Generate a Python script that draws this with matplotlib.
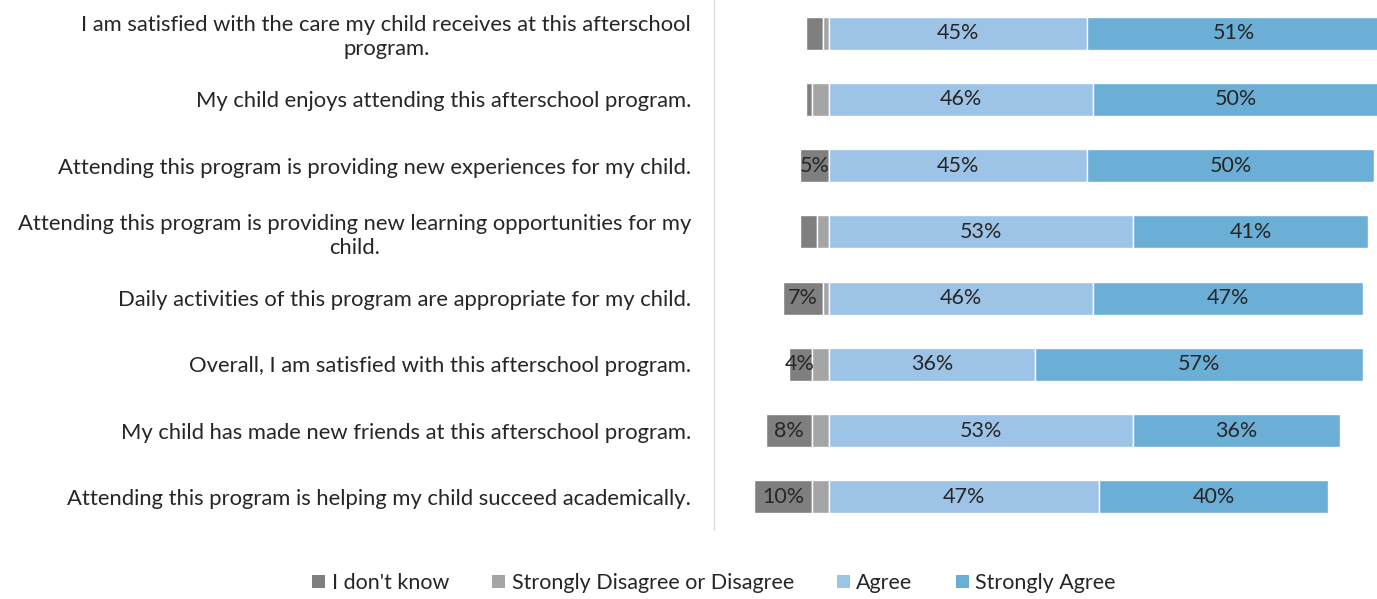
import matplotlib.pyplot as plt
from matplotlib.patches import Patch

plt.rcParams['font.family'] = ['Lato', 'DejaVu Sans']

questions = [
    'I am satisfied with the care my child receives at this afterschool\nprogram.',
    'My child enjoys attending this afterschool program.',
    'Attending this program is providing new experiences for my child.',
    'Attending this program is providing new learning opportunities for my\nchild.',
    'Daily activities of this program are appropriate for my child.',
    'Overall, I am satisfied with this afterschool program.',
    'My child has made new friends at this afterschool program.',
    'Attending this program is helping my child succeed academically.',
]
dont_know = [3, 1, 5, 3, 7, 4, 8, 10]
disagree = [1, 3, 0, 2, 1, 3, 3, 3]
agree = [45, 46, 45, 53, 46, 36, 53, 47]
strongly_agree = [51, 50, 50, 41, 47, 57, 36, 40]

series_names = ["I don't know", 'Strongly Disagree or Disagree', 'Agree', 'Strongly Agree']
colors = ['#7f7f7f', '#a5a5a5', '#9dc3e6', '#6baed6']

fig = plt.figure(figsize=(13.77, 5.99), dpi=100)
ax = fig.add_axes([714 / 1377, 69 / 599, 663 / 1377, 530 / 599])

y = list(range(len(questions)))
h = 0.5

# negative side: disagree sits next to zero, "don't know" further out
left_dis = [-d for d in disagree]
left_dk = [-(d + k) for d, k in zip(disagree, dont_know)]

segments = [
    (dont_know, left_dk, colors[0]),
    (disagree, left_dis, colors[1]),
    (agree, [0] * len(agree), colors[2]),
    (strongly_agree, agree, colors[3]),
]

for vals, lefts, c in segments:
    bars = ax.barh(y, vals, left=lefts, height=h, color=c, edgecolor='white', linewidth=1)
    for b, v in zip(bars, vals):
        if v >= 4:
            ax.text(b.get_x() + b.get_width() / 2, b.get_y() + h / 2, f'{v}%',
                    ha='center', va='center', fontsize=15.5, color='#262626')

ax.set_xlim(-20, 95.5)
ax.set_ylim(len(questions) - 0.5, -0.5)
ax.set_yticks(y)
ax.set_yticklabels(questions, fontsize=15.8, color='#262626',
                   multialignment='center', linespacing=1.25)
ax.tick_params(axis='y', length=0, pad=16.5)
ax.set_xticks([])
for s in ['top', 'right', 'bottom']:
    ax.spines[s].set_visible(False)
ax.spines['left'].set_color('#d9d9d9')

handles = [Patch(facecolor=c, label=n) for n, c in zip(series_names, colors)]
fig.legend(handles=handles, loc='center', bbox_to_anchor=(714 / 1377, 1 - 583 / 599),
           ncol=4, frameon=False, fontsize=15.5, handlelength=0.6, handleheight=0.6,
           handletextpad=0.3, columnspacing=2.0, labelcolor='#262626')

fig.savefig('out.png', dpi=100)
